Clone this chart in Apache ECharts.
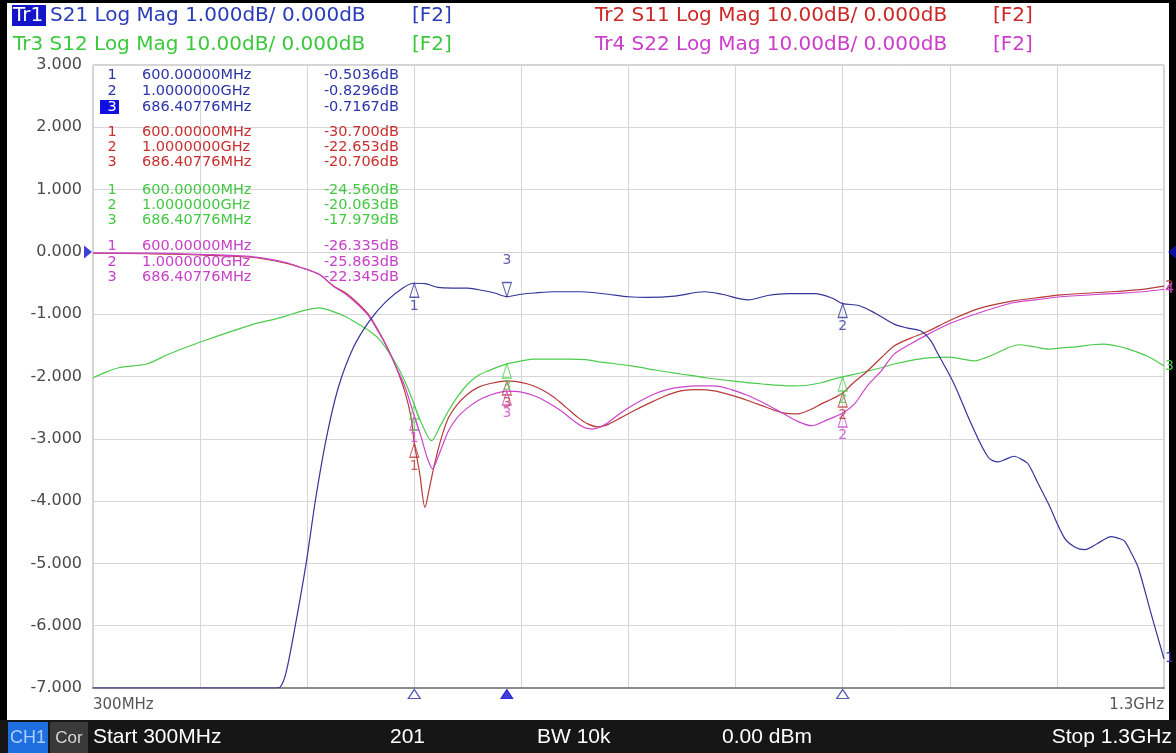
<!DOCTYPE html>
<html><head><meta charset="utf-8">
<script src="https://cdn.jsdelivr.net/npm/echarts@6.0.0/dist/echarts.min.js"></script>
<style>html,body{margin:0;padding:0;background:#000}#c{width:1176px;height:753px}</style>
</head><body><div id="c"></div>
<script>
// ---- data (display units: divisions of 1.000 dB on Tr1 scale; Tr2..Tr4 are 10 dB/div) ----
const freqMin = 300, freqMax = 1300;
const yTicks = [-7, -6, -5, -4, -3, -2, -1, 0, 1, 2, 3];

const s21 = [[300,-7],[470,-7],[475,-6.98],[480,-6.77],[488,-6.08],[499,-5.0],[508,-3.95],[518,-2.98],[529,-2.18],[543,-1.54],[558,-1.11],[574,-0.79],[590,-0.57],[600,-0.5036],[610,-0.51],[622,-0.57],[636,-0.58],[650,-0.58],[664,-0.62],[675,-0.66],[686.4,-0.7167],[700,-0.68],[712,-0.66],[731,-0.64],[756,-0.64],[781,-0.68],[800,-0.72],[818,-0.73],[843,-0.71],[871,-0.64],[887,-0.68],[912,-0.77],[930,-0.70],[949,-0.67],[974,-0.67],[990,-0.74],[1000,-0.8296],[1015,-0.86],[1030,-0.98],[1048,-1.16],[1060,-1.22],[1073,-1.27],[1082,-1.42],[1089,-1.64],[1104,-2.12],[1120,-2.76],[1136,-3.3],[1145,-3.37],[1152,-3.33],[1160,-3.28],[1167,-3.33],[1173,-3.40],[1182,-3.7],[1192,-4.04],[1207,-4.59],[1217,-4.74],[1226,-4.78],[1238,-4.68],[1251,-4.57],[1258,-4.6],[1263,-4.64],[1270,-4.85],[1276,-5.07],[1288,-5.81],[1300,-6.53]];

const s11 = [[300,-0.02],[350,-0.03],[400,-0.05],[450,-0.09],[480,-0.18],[494,-0.25],[511,-0.36],[525,-0.55],[536,-0.66],[547,-0.82],[557,-1.0],[566,-1.25],[575,-1.54],[583,-1.85],[591,-2.23],[597,-2.66],[600,-3.07],[605,-3.55],[610,-4.1],[614,-3.8],[619,-3.4],[625,-3.0],[632,-2.66],[640,-2.45],[650,-2.28],[660,-2.17],[669,-2.12],[686.4,-2.0706],[706,-2.12],[720,-2.22],[731,-2.34],[742,-2.5],[753,-2.66],[762,-2.76],[772,-2.81],[782,-2.76],[793,-2.66],[805,-2.55],[818,-2.44],[833,-2.32],[849,-2.23],[865,-2.21],[880,-2.23],[896,-2.3],[912,-2.39],[928,-2.49],[943,-2.58],[958,-2.6],[970,-2.53],[980,-2.44],[990,-2.36],[1000,-2.2653],[1010,-2.1],[1020,-1.96],[1036,-1.70],[1048,-1.51],[1064,-1.38],[1080,-1.27],[1100,-1.1],[1127,-0.91],[1158,-0.79],[1180,-0.74],[1204,-0.69],[1251,-0.64],[1280,-0.60],[1300,-0.55]];

const s12 = [[300,-2.02],[312,-1.93],[324,-1.86],[337,-1.83],[350,-1.80],[371,-1.64],[387,-1.53],[403,-1.43],[425,-1.30],[450,-1.16],[465,-1.10],[480,-1.03],[495,-0.95],[511,-0.9],[523,-0.95],[536,-1.04],[547,-1.15],[558,-1.27],[566,-1.38],[575,-1.58],[585,-1.86],[593,-2.15],[600,-2.456],[608,-2.8],[616,-3.03],[624,-2.8],[632,-2.55],[640,-2.33],[650,-2.12],[660,-1.98],[669,-1.91],[686.4,-1.7979],[700,-1.75],[712,-1.72],[744,-1.72],[760,-1.73],[775,-1.77],[803,-1.83],[826,-1.9],[849,-1.96],[872,-2.02],[896,-2.07],[925,-2.12],[952,-2.15],[967,-2.14],[980,-2.1],[990,-2.05],[1000,-2.0063],[1017,-1.94],[1036,-1.86],[1048,-1.80],[1064,-1.74],[1080,-1.70],[1099,-1.69],[1112,-1.72],[1123,-1.75],[1133,-1.70],[1142,-1.64],[1153,-1.55],[1164,-1.49],[1178,-1.52],[1192,-1.56],[1205,-1.54],[1220,-1.52],[1233,-1.49],[1244,-1.48],[1256,-1.51],[1267,-1.56],[1285,-1.68],[1300,-1.83]];

const s22 = [[300,-0.02],[350,-0.02],[400,-0.04],[450,-0.08],[480,-0.17],[494,-0.25],[511,-0.36],[525,-0.56],[536,-0.68],[547,-0.84],[557,-1.02],[566,-1.27],[575,-1.55],[583,-1.85],[591,-2.15],[600,-2.6335],[606,-2.95],[612,-3.3],[617,-3.48],[622,-3.3],[627,-3.08],[632,-2.87],[640,-2.66],[650,-2.5],[660,-2.38],[669,-2.31],[686.4,-2.2345],[700,-2.25],[712,-2.31],[725,-2.42],[737,-2.55],[748,-2.7],[759,-2.82],[768,-2.84],[780,-2.75],[793,-2.58],[808,-2.42],[824,-2.28],[836,-2.21],[849,-2.17],[865,-2.15],[880,-2.15],[896,-2.21],[912,-2.31],[928,-2.44],[943,-2.58],[958,-2.72],[971,-2.79],[985,-2.7],[1000,-2.5863],[1011,-2.44],[1023,-2.15],[1036,-1.91],[1048,-1.64],[1064,-1.47],[1080,-1.32],[1100,-1.15],[1127,-0.98],[1158,-0.82],[1180,-0.77],[1204,-0.72],[1251,-0.67],[1280,-0.64],[1300,-0.60]];

// markers: frequency (MHz) and value (display units)
const markerFreq = [600, 1000, 686.40776];
const markerFreqText = ['600.00000MHz', '1.0000000GHz', '686.40776MHz'];
const m21 = [-0.5036, -0.8296, -0.7167];
const m11 = [-3.0700, -2.2653, -2.0706];
const m12 = [-2.4560, -2.0063, -1.7979];
const m22 = [-2.6335, -2.5863, -2.2345];
const m21Text = ['-0.5036dB', '-0.8296dB', '-0.7167dB'];
const m11Text = ['-30.700dB', '-22.653dB', '-20.706dB'];
const m12Text = ['-24.560dB', '-20.063dB', '-17.979dB'];
const m22Text = ['-26.335dB', '-25.863dB', '-22.345dB'];

// ---- styles ----
const C21 = '#34349a', C11 = '#b83a3a', C12 = '#4ccc4c', C22 = '#cc44cc';
const T21 = '#2a3cb8', T11 = '#cc2828', T12 = '#3cc83c', T22 = '#cc3ccc';

function txt(x, y, text, color, font, align) {
  return { type: 'text', x: x, y: y, z: 50,
    style: { text: text, fill: color, font: font, align: align || 'left', verticalAlign: 'middle',
      textAlign: align || 'left', textVerticalAlign: 'middle' } };
}

const HF = '20px "DejaVu Sans"';
const MF = '14.5px "DejaVu Sans"';
const SF = '21px "Liberation Sans"';

const graphics = [
  { type: 'rect', z: -10, shape: { x: 7, y: 3, width: 1162, height: 720 }, style: { fill: '#ffffff' } },
  { type: 'rect', z: 40, shape: { x: 12, y: 5, width: 34, height: 21 }, style: { fill: '#1414c8' } },
  txt(13, 16, 'Tr1', '#ffffff', HF),
  txt(50, 16, 'S21 Log Mag 1.000dB/ 0.000dB', T21, HF),
  txt(412, 16, '[F2]', T21, HF),
  txt(13, 45, 'Tr3 S12 Log Mag 10.00dB/ 0.000dB', T12, HF),
  txt(412, 45, '[F2]', T12, HF),
  txt(595, 16, 'Tr2 S11 Log Mag 10.00dB/ 0.000dB', T11, HF),
  txt(993, 16, '[F2]', T11, HF),
  txt(595, 45, 'Tr4 S22 Log Mag 10.00dB/ 0.000dB', T22, HF),
  txt(993, 45, '[F2]', T22, HF),
  // status bar
  { type: 'rect', z: 40, shape: { x: 0, y: 720, width: 1176, height: 33 }, style: { fill: '#161616' } },
  { type: 'rect', z: 41, shape: { x: 8, y: 722, width: 40, height: 31 }, style: { fill: '#1f6ee0' } },
  { type: 'rect', z: 41, shape: { x: 50, y: 722, width: 38, height: 31 }, style: { fill: '#3a3a3a' } },
  txt(28, 738, 'CH1', '#a8d0ff', '18px "Liberation Sans"', 'center'),
  txt(69, 738, 'Cor', '#d8d8d8', '17px "Liberation Sans"', 'center'),
  txt(93, 737, 'Start 300MHz', '#ffffff', SF),
  txt(390, 737, '201', '#ffffff', SF),
  txt(537, 737, 'BW 10k', '#ffffff', SF),
  txt(722, 737, '0.00 dBm', '#ffffff', SF),
  txt(1172, 737, 'Stop 1.3GHz', '#ffffff', SF, 'right')
];

// marker table
const tables = [
  { rows: [75, 91, 107], color: '#2a34a8', vals: m21Text },
  { rows: [132, 147, 162], color: '#c83030', vals: m11Text },
  { rows: [190, 205, 220], color: '#44c844', vals: m12Text },
  { rows: [246, 262, 277], color: '#c840c8', vals: m22Text }
];
graphics.push({ type: 'rect', z: 45, shape: { x: 100, y: 100, width: 19, height: 14 }, style: { fill: '#1010e0' } });
tables.forEach(function (t, ti) {
  for (let i = 0; i < 3; i++) {
    const numColor = (ti === 0 && i === 2) ? '#ffffff' : t.color;
    graphics.push(txt(112, t.rows[i], String(i + 1), numColor, MF, 'center'));
    graphics.push(txt(142, t.rows[i], markerFreqText[i], t.color, MF));
    graphics.push(txt(399, t.rows[i], t.vals[i], t.color, MF, 'right'));
  }
});

function lineSeries(name, data, color, endText) {
  return { name: name, type: 'line', data: data, showSymbol: false, smooth: 0.3, z: 5,
    lineStyle: { color: color, width: 1.2 }, itemStyle: { color: color },
    endLabel: { show: true, formatter: endText, color: color, fontSize: 14, distance: 1, fontFamily: 'DejaVu Sans' } };
}
const UP = 'path://M5,0 L10,10 L0,10 Z';
const DOWN = 'path://M0,0 L10,0 L5,10 Z';
function markerSeries(vals, color, activeDown) {
  const data = vals.map(function (v, i) {
    const down = activeDown && i === 2;
    return { value: [markerFreq[i], v], symbol: down ? DOWN : UP,
      symbolOffset: [0, down ? -7 : 7],
      label: { show: true, position: down ? 'top' : 'bottom', distance: down ? 14 : 1, formatter: String(i + 1) } };
  });
  return { type: 'scatter', data: data, symbolSize: [9, 14], z: 6, clip: false, silent: true,
    itemStyle: { color: 'rgba(255,255,255,0)', borderColor: color, borderWidth: 1.2 },
    label: { color: color, fontSize: 14, fontFamily: 'DejaVu Sans' } };
}

const option = {
  animation: false,
  backgroundColor: '#000000',
  graphic: graphics,
  grid: { left: 93, right: 12, top: 65, bottom: 65, show: true, borderColor: '#a8a8a8', borderWidth: 1, backgroundColor: 'transparent' },
  xAxis: { type: 'value', min: freqMin, max: freqMax, interval: 100,
    axisLine: { show: true, onZero: false, lineStyle: { color: '#8c8c8c', width: 2 } },
    axisTick: { show: false },
    splitLine: { show: true, lineStyle: { color: '#d6d6d6', width: 1 } },
    axisLabel: { show: true, margin: 10, color: '#555555', fontSize: 15, fontFamily: 'DejaVu Sans',
      alignMinLabel: 'left', alignMaxLabel: 'right',
      formatter: function (v) { return v === freqMin ? '300MHz' : (v === freqMax ? '1.3GHz' : ''); } } },
  yAxis: { type: 'value', min: yTicks[0], max: yTicks[yTicks.length - 1], interval: 1,
    axisLine: { show: false }, axisTick: { show: false },
    splitLine: { show: true, lineStyle: { color: '#d6d6d6', width: 1 } },
    axisLabel: { margin: 11, color: '#4a4a4a', fontSize: 16, fontFamily: 'DejaVu Sans',
      formatter: function (v) { return v.toFixed(3); } } },
  series: [
    lineSeries('S12', s12, C12, '3'),
    lineSeries('S11', s11, C11, '2'),
    lineSeries('S22', s22, C22, '4'),
    lineSeries('S21', s21, C21, '1'),
    markerSeries(m12, C12, false),
    markerSeries(m11, C11, false),
    markerSeries(m22, C22, false),
    markerSeries(m21, C21, true),
    // stimulus markers on the bottom axis
    { type: 'scatter', clip: false, silent: true, z: 7, symbolSize: [12, 9], symbolOffset: [0, 6],
      data: [
        { value: [markerFreq[0], yTicks[0]], symbol: UP, itemStyle: { color: '#ffffff', borderColor: '#3030a0', borderWidth: 1.2 } },
        { value: [markerFreq[1], yTicks[0]], symbol: UP, itemStyle: { color: '#ffffff', borderColor: '#3030a0', borderWidth: 1.2 } },
        { value: [markerFreq[2], yTicks[0]], symbol: UP, itemStyle: { color: '#1010d0', borderColor: '#1010d0', borderWidth: 1 } }
      ] },
    // reference-level arrows
    { type: 'scatter', clip: false, silent: true, z: 60, symbolSize: [8, 13],
      itemStyle: { color: '#1010c8' },
      data: [
        { value: [freqMin, 0], symbol: 'path://M0,0 L10,5 L0,10 Z', symbolOffset: [-5, 0] },
        { value: [freqMax, 0], symbol: 'path://M10,0 L0,5 L10,10 Z', symbolOffset: [8, 0] }
      ] }
  ]
};
const chart = echarts.init(document.getElementById('c'), null, { renderer: 'canvas' });
chart.setOption(option);
</script></body></html>
